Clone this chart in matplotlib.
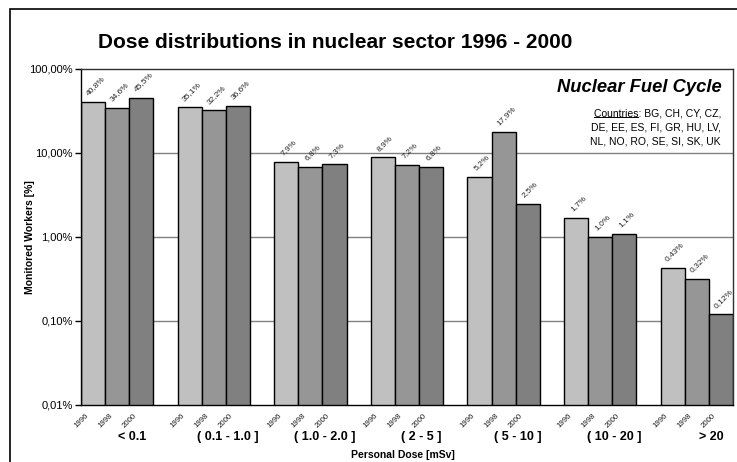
import matplotlib
matplotlib.use("Agg")
import matplotlib.pyplot as plt
import numpy as np
from matplotlib.patches import Rectangle
from matplotlib.lines import Line2D

plt.rcParams['font.family'] = ['Liberation Sans', 'DejaVu Sans']

# ---- data ----
groups = ["< 0.1", "( 0.1 - 1.0 ]", "( 1.0 - 2.0 ]", "( 2 - 5 ]", "( 5 - 10 ]", "( 10 - 20 ]", "> 20"]
years = ["1996", "1998", "2000"]
v1996 = [40.8, 35.1, 7.9, 8.9, 5.2, 1.7, 0.43]
v1998 = [34.6, 32.2, 6.8, 7.2, 17.9, 1.0, 0.32]
v2000 = [45.5, 36.6, 7.3, 6.8, 2.5, 1.1, 0.12]
labels1996 = ["40,8%", "35,1%", "7,9%", "8,9%", "5,2%", "1,7%", "0,43%"]
labels1998 = ["34,6%", "32,2%", "6,8%", "7,2%", "17,9%", "1,0%", "0,32%"]
labels2000 = ["45,5%", "36,6%", "7,3%", "6,8%", "2,5%", "1,1%", "0,12%"]
ytick_vals = [0.01, 0.1, 1, 10, 100]
ytick_labels = ["0,01%", "0,10%", "1,00%", "10,00%", "100,00%"]

series = [v1996, v1998, v2000]
series_labels = [labels1996, labels1998, labels2000]
colors = ["#C0C0C0", "#969696", "#808080"]

W, H = 737, 462
fig = plt.figure(figsize=(W / 100, H / 100), dpi=100)
ax = fig.add_axes([81 / W, 1 - 405 / H, (733 - 81) / W, (405 - 69) / H])

ax.set_yscale('log')
ax.set_ylim(0.01, 100)
ax.set_xlim(0, 27)

for yv in [0.1, 1, 10]:
    ax.axhline(yv, color="#808080", lw=1, zorder=0)

gx = np.arange(len(groups)) * 4
for i, (vals, labs) in enumerate(zip(series, series_labels)):
    xs = gx + i + 0.5
    ax.bar(xs, vals, width=1.0, color=colors[i], edgecolor="black", linewidth=1, zorder=2)
    for x, v, lab in zip(xs, vals, labs):
        ax.annotate(lab, (x, v), xytext=(1.5, 3.5), textcoords='offset points',
                    rotation=45, ha='center', va='bottom', fontsize=6,
                    color="#262626", zorder=3)
    for x in xs:
        ax.annotate(years[i], (x, 0), xycoords=('data', 'axes fraction'),
                    xytext=(-2.5, -5), textcoords='offset points',
                    rotation=45, ha='right', va='top', fontsize=5.6, color="#1a1a1a")

for g, name in zip(gx, groups):
    ax.annotate(name, (g + 2.1, 0), xycoords=('data', 'axes fraction'),
                xytext=(0, -23), textcoords='offset points',
                ha='center', va='center', fontsize=9, fontweight='bold')

ax.set_xticks([])
ax.set_yticks(ytick_vals)
ax.set_yticklabels(ytick_labels)
ax.yaxis.set_minor_locator(matplotlib.ticker.NullLocator())
ax.tick_params(axis='y', direction='out', length=4, width=1, labelsize=8, pad=2)
for s in ax.spines.values():
    s.set_linewidth(1)
    s.set_color("black")
ax.spines['top'].set_color("#303030")
ax.spines['right'].set_color("#303030")

fig.text(335 / W, 1 - 42 / H, "Dose distributions in nuclear sector 1996 - 2000",
         ha='center', va='center', fontsize=15, fontweight='bold')
fig.text(403 / W, 1 - 455 / H, "Personal Dose [mSv]", ha='center', va='center',
         fontsize=7.5, fontweight='bold')
fig.text(30 / W, 1 - 237 / H, "Monitored Workers [%]", ha='center', va='center',
         rotation=90, fontsize=7.5, fontweight='bold')

fig.text(722 / W, 1 - 88 / H, "Nuclear Fuel Cycle", ha='right', va='center',
         fontsize=13.2, fontweight='bold', fontstyle='italic')
line1 = fig.text(721 / W, 1 - 113 / H, "Countries: BG, CH, CY, CZ,", ha='right', va='center', fontsize=7.5)
fig.text(721 / W, 1 - 127.5 / H, "DE, EE, ES, FI, GR, HU, LV,", ha='right', va='center', fontsize=7.5)
fig.text(721 / W, 1 - 142 / H, "NL, NO, RO, SE, SI, SK, UK", ha='right', va='center', fontsize=7.5)

# figure border
fig.patches.append(Rectangle((10 / W, -0.1), 1.2, 1 - 9 / H + 0.1, transform=fig.transFigure,
                             fill=False, edgecolor="black", linewidth=1.2))

# underline "Countries"
fig.canvas.draw()
r = fig.canvas.get_renderer()
bb = line1.get_window_extent(r)
tmp = fig.text(0, 0, "Countries", fontsize=7.5)
wb = tmp.get_window_extent(r)
tmp.remove()
y_ul = bb.y0 + 1
fig.lines.append(Line2D([bb.x0 / W, (bb.x0 + wb.width) / W], [y_ul / H, y_ul / H],
                        transform=fig.transFigure, color="black", linewidth=0.7))

fig.savefig("out.png", dpi=100)
